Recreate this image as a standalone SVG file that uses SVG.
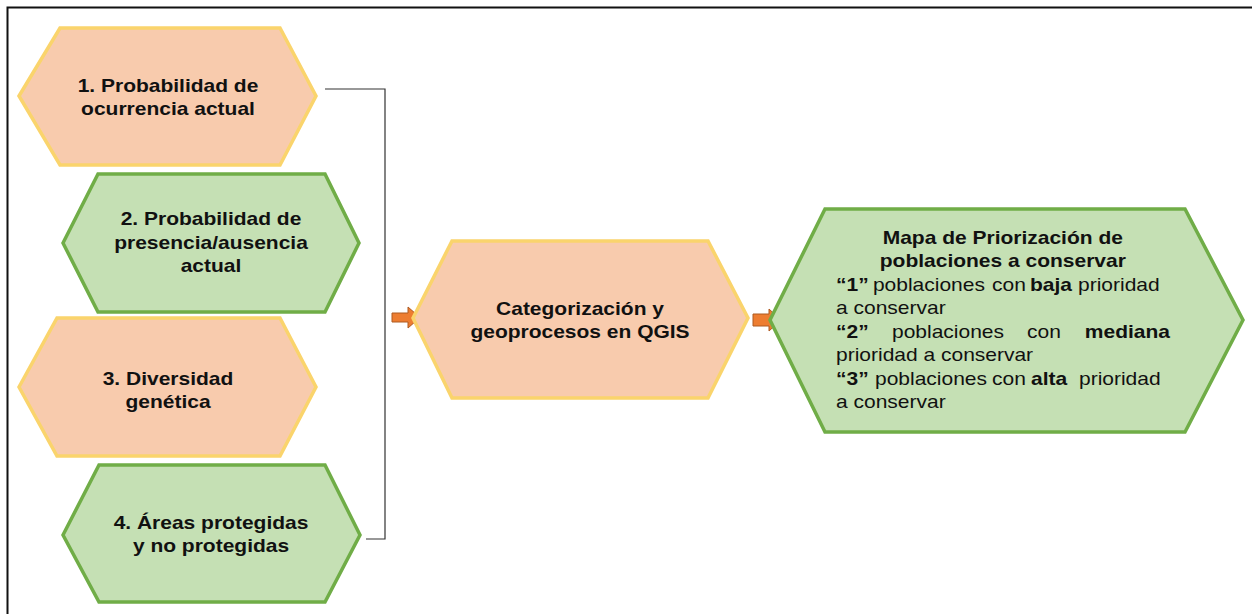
<svg xmlns="http://www.w3.org/2000/svg" width="1253" height="614" viewBox="0 0 1253 614">
<defs>
<style>
.peach{fill:#f8cbad;stroke:#fad46c;stroke-width:3.5;stroke-linejoin:miter}
.green{fill:#c5e0b4;stroke:#70ad47;stroke-width:3.5;stroke-linejoin:miter}
.t{font-family:"Liberation Sans",Arial,sans-serif;font-size:17.5px;fill:#111;text-anchor:middle;font-weight:bold}
.b{font-family:"Liberation Sans",Arial,sans-serif;font-size:17.5px;fill:#111}
.bb{font-weight:bold}
.conn{fill:none;stroke:#333;stroke-width:1.2}
.arr{fill:#ed7d31;stroke:#ae5a21;stroke-width:1}
</style>
</defs>
<rect x="0" y="0" width="1253" height="614" fill="#fff"/>
<path d="M7.5,614 V7.5 H1252" fill="none" stroke="#111" stroke-width="2"/>

<g id="connectors">
<path class="conn" d="M325,89 H385 V539 H366"/>
<path class="arr" d="M392,313 H408 V307 L420,317.5 L408,328 V322 H392 Z"/>
<path class="arr" d="M753,314 H769 V309 L781,320 L769,331 V326 H753 Z"/>
</g>

<g id="node1">
<polygon class="peach" points="19,96 60,28 280,28 316,96 280,165 60,165"/>
<g transform="matrix(1.2,0,0,1,168,0)"><text class="t" x="0" y="92">1. Probabilidad de</text><text class="t" x="0" y="115">ocurrencia actual</text></g>
</g>

<g id="node2">
<polygon class="green" points="63,243 98,174 325,174 359,243 325,312 98,312"/>
<g transform="matrix(1.2,0,0,1,211,0)"><text class="t" x="0" y="225">2. Probabilidad de</text><text class="t" x="0" y="249">presencia/ausencia</text><text class="t" x="0" y="272">actual</text></g>
</g>

<g id="node3">
<polygon class="peach" points="19,387 57,318 280,318 316,387 280,456 57,456"/>
<g transform="matrix(1.2,0,0,1,168,0)"><text class="t" x="0" y="385">3. Diversidad</text><text class="t" x="0" y="408">genética</text></g>
</g>

<g id="node4">
<polygon class="green" points="63,535 99,465 325,465 360,535 325,602 99,602"/>
<g transform="matrix(1.2,0,0,1,211,0)"><text class="t" x="0" y="529">4. Áreas protegidas</text><text class="t" x="0" y="552">y no protegidas</text></g>
</g>

<g id="node5">
<polygon class="peach" points="413,318 452,241 708,241 748,318 708,398 452,398"/>
<g transform="matrix(1.2,0,0,1,580,0)"><text class="t" x="0" y="315">Categorización y</text><text class="t" x="0" y="338">geoprocesos en QGIS</text></g>
</g>

<g id="node6">
<polygon class="green" points="770,320 825,209 1185,209 1243,320 1185,432 825,432"/>
<g transform="matrix(1.2,0,0,1,836,0)">
<text class="t" x="139" y="244">Mapa de Priorización de</text>
<text class="t" x="139" y="267.5">poblaciones a conservar</text>
<text class="b" y="291"><tspan class="bb" x="0">“1”</tspan><tspan x="30.8">poblaciones</tspan><tspan x="130">con</tspan><tspan class="bb" x="161.7">baja</tspan><tspan x="201.7">prioridad</tspan></text>
<text class="b" x="0" y="314.5">a conservar</text>
<text class="b" y="338"><tspan class="bb" x="0">“2”</tspan><tspan x="46.7">poblaciones</tspan><tspan x="159.2">con</tspan></text>
<text class="b bb" x="278.3" y="338" text-anchor="end">mediana</text>
<text class="b" x="0" y="361.5">prioridad a conservar</text>
<text class="b" y="385"><tspan class="bb" x="0">“3”</tspan><tspan x="32.5">poblaciones</tspan><tspan x="130">con</tspan><tspan class="bb" x="162.5">alta</tspan><tspan x="202.5">prioridad</tspan></text>
<text class="b" x="0" y="408.5">a conservar</text>
</g>
</g>
</svg>
